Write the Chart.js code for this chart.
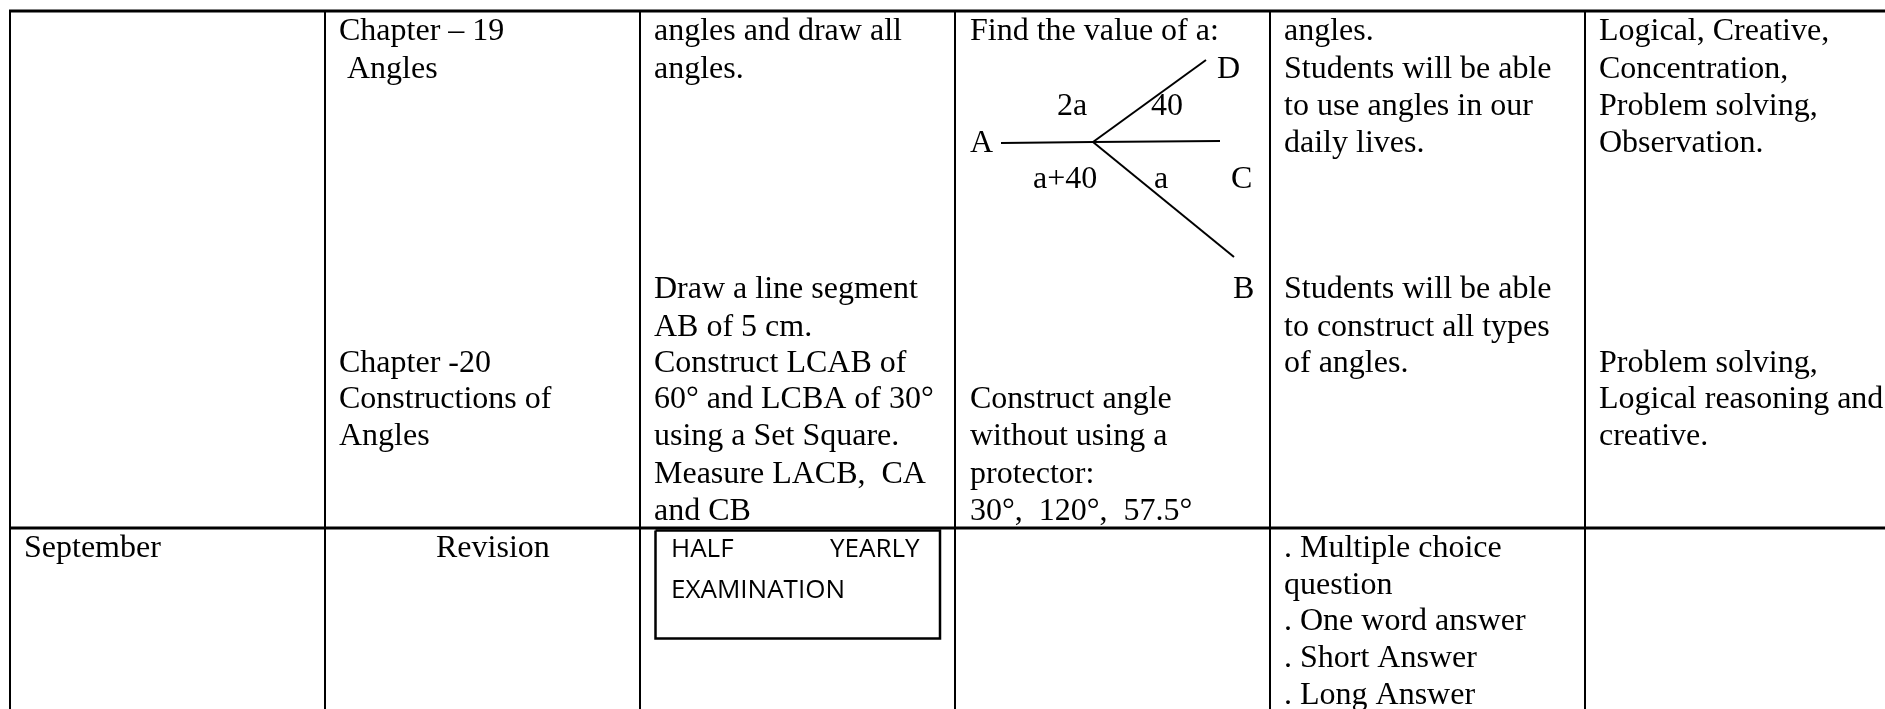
<!DOCTYPE html>
<html lang="en">
<head>
    <meta charset="UTF-8">
    <title>Lesson plan table</title>
    <script src="https://cdn.jsdelivr.net/npm/chart.js"></script>
    <style>
        html, body { margin: 0; background: #fff; }
        #wrap { width: 1885px; height: 709px; }
        #tableChart { filter: blur(0.4px); }
    </style>
</head>
<body>
    <div id="wrap"><canvas id="tableChart"></canvas></div>

    <script>
        // table rules
        const columnRules = [10, 325, 640, 955, 1270, 1585];
        const rowRules = [11, 528];

        // exam box
        const boxX = [655.5, 940];
        const boxY = [530.5, 638.5];

        // angle figure
        const rayA = [[1093, 142], [1001, 143]];
        const rayB = [[1093, 142], [1234, 257]];
        const rayC = [[1093, 142], [1220, 141]];
        const rayD = [[1093, 142], [1206, 60]];

        // serif cell text: [text, x, baseline]
        const monthCell = [['September', 24, 557]];
        const chapterCell = [
            ['Chapter – 19', 339, 40], ['Angles', 347, 78],
            ['Chapter -20', 339, 372], ['Constructions of', 339, 408], ['Angles', 339, 445],
            ['Revision', 436, 557]
        ];
        const activityCell = [
            ['angles and draw all', 654, 40], ['angles.', 654, 78],
            ['Draw a line segment', 654, 298], ['AB of 5 cm.', 654, 336],
            ['Construct LCAB of', 654, 372], ['60° and LCBA of 30°', 654, 408],
            ['using a Set Square.', 654, 445], ['Measure LACB,  CA', 654, 483], ['and CB', 654, 520]
        ];
        const exerciseCell = [
            ['Find the value of a:', 970, 40], ['D', 1217, 78], ['2a', 1057, 115], ['40', 1151, 115],
            ['A', 970, 152], ['a+40', 1033, 188], ['a', 1154, 188], ['C', 1231, 188], ['B', 1233, 298],
            ['Construct angle', 970, 408], ['without using a', 970, 445],
            ['protector:', 970, 483], ['30°,  120°,  57.5°', 970, 520]
        ];
        const outcomeCell = [
            ['angles.', 1284, 40], ['Students will be able', 1284, 78], ['to use angles in our', 1284, 115],
            ['daily lives.', 1284, 152], ['Students will be able', 1284, 298],
            ['to construct all types', 1284, 336], ['of angles.', 1284, 372],
            ['. Multiple choice', 1284, 557], ['question', 1284, 594], ['. One word answer', 1284, 630],
            ['. Short Answer', 1284, 667], ['. Long Answer', 1284, 704]
        ];
        const skillCell = [
            ['Logical, Creative,', 1599, 40], ['Concentration,', 1599, 78], ['Problem solving,', 1599, 115],
            ['Observation.', 1599, 152], ['Problem solving,', 1599, 372],
            ['Logical reasoning and', 1599, 408], ['creative.', 1599, 445]
        ];
        const examText = [['HALF', 671, 557], ['YEARLY', 830, 557], ['EXAMINATION', 671, 598]];

        function toPoints(pairs) {
            return pairs.map(p => ({ x: p[0], y: p[1] }));
        }

        function lineSet(pairs, width) {
            return {
                data: toPoints(pairs),
                borderColor: '#000',
                borderWidth: width,
                pointRadius: 0,
                showLine: true,
                fill: false
            };
        }

        const datasets = [];
        columnRules.forEach(x => datasets.push(lineSet([[x, 10], [x, 709]], 2)));
        rowRules.forEach(y => datasets.push(lineSet([[9, y], [1885, y]], 3)));
        datasets.push(lineSet([
            [boxX[0], boxY[0]], [boxX[1], boxY[0]], [boxX[1], boxY[1]], [boxX[0], boxY[1]], [boxX[0], boxY[0]]
        ], 2.5));
        [rayA, rayB, rayC, rayD].forEach(r => datasets.push(lineSet(r, 2)));

        // draws the cell text at data positions through the chart scales
        const cellText = {
            id: 'cellText',
            afterDatasetsDraw(chart) {
                const ctx = chart.ctx;
                const xs = chart.scales.x;
                const ys = chart.scales.y;
                ctx.save();
                ctx.fillStyle = '#000';
                ctx.textBaseline = 'alphabetic';
                ctx.font = '32px "Liberation Serif"';
                [monthCell, chapterCell, activityCell, exerciseCell, outcomeCell, skillCell].forEach(cell => {
                    cell.forEach(t => ctx.fillText(t[0], xs.getPixelForValue(t[1]), ys.getPixelForValue(t[2])));
                });
                ctx.font = '26px "Open Sans"';
                examText.forEach(t => ctx.fillText(t[0], xs.getPixelForValue(t[1]), ys.getPixelForValue(t[2])));
                ctx.restore();
            }
        };

        new Chart(document.getElementById('tableChart'), {
            type: 'scatter',
            data: { datasets: datasets },
            options: {
                responsive: true,
                maintainAspectRatio: false,
                animation: false,
                layout: { padding: 0 },
                plugins: { legend: { display: false }, tooltip: { enabled: false } },
                scales: {
                    x: { type: 'linear', min: 0, max: 1885, display: false },
                    y: { type: 'linear', min: 0, max: 709, reverse: true, display: false }
                }
            },
            plugins: [cellText]
        });
    </script>
</body>
</html>
